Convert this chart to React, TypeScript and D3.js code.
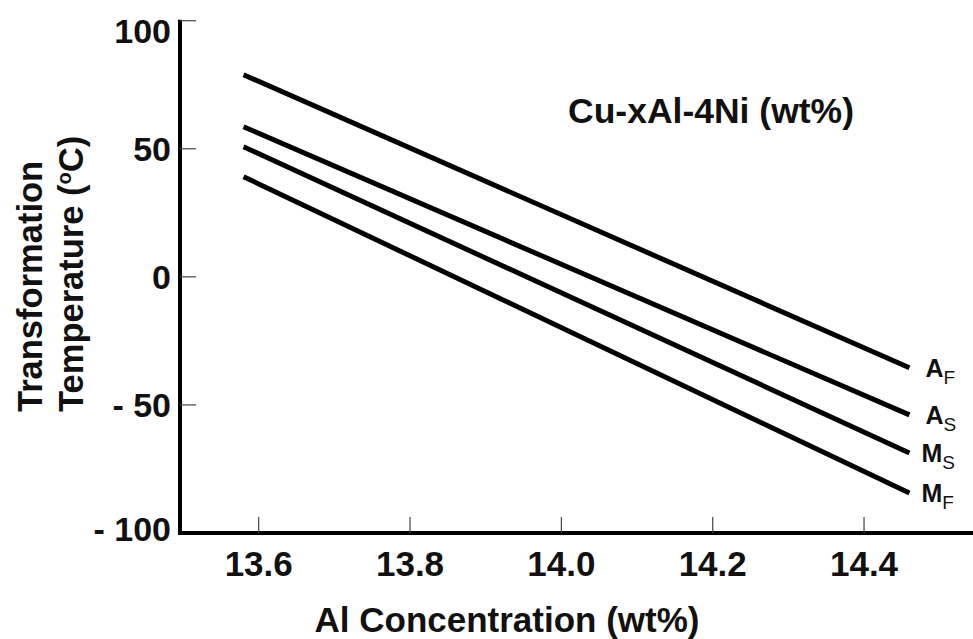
import { useEffect, useRef } from "react";
import * as d3 from "d3";

// ---- data ----
const alConc = [13.58, 14.46];
const seriesNames = ["A", "A", "M", "M"];
const seriesSubs = ["F", "S", "S", "F"];
const afTemps = [78.9, -35.5];
const asTemps = [58.6, -53.9];
const msTemps = [50.8, -68.75];
const mfTemps = [39.1, -84.4];

const xTicks = [13.6, 13.8, 14.0, 14.2, 14.4];
const xTickLabels = ["13.6", "13.8", "14.0", "14.2", "14.4"];
const yTicks = [100, 50, 0, -50, -100];
const yTickLabels = ["100", "50", "0", "- 50", "- 100"];

const FONT = "'Liberation Sans', Arial, Helvetica, sans-serif";

export default function App() {
  const svgRef = useRef<SVGSVGElement>(null);

  useEffect(() => {
    const W = 973, H = 639;
    const svg = d3.select(svgRef.current);
    svg.selectAll("*").remove();
    svg.attr("width", W).attr("height", H);

    const x = d3.scaleLinear().domain([13.496, 14.544]).range([180, 973]);
    const y = d3.scaleLinear().domain([-100, 100]).range([533, 20.7]);

    const allSeries = [afTemps, asTemps, msTemps, mfTemps];

    // lines
    const line = d3.line<[number, number]>()
      .x(d => x(d[0]))
      .y(d => y(d[1]));
    allSeries.forEach((temps, i) => {
      const pts = alConc.map((c, j) => [c, temps[j]] as [number, number]);
      svg.append("path")
        .datum(pts)
        .attr("fill", "none")
        .attr("stroke", "#000")
        .attr("stroke-width", 5)
        .attr("d", line);

      // end label with subscript
      const last = pts[pts.length - 1];
      const t = svg.append("text")
        .attr("x", x(last[0]) + (seriesNames[i] === "M" ? 12 : 16))
        .attr("y", y(last[1]) + 9)
        .attr("font-family", FONT)
        .attr("font-weight", "bold")
        .attr("font-size", 25)
        .attr("fill", "#111");
      t.append("tspan").text(seriesNames[i]);
      t.append("tspan").attr("font-size", 19).attr("font-weight", "normal").attr("dy", 7).text(seriesSubs[i]);
    });

    // y axis
    const yAxis = svg.append("g");
    yAxis.append("line")
      .attr("x1", 180).attr("x2", 180)
      .attr("y1", y(100) - 1).attr("y2", y(-100))
      .attr("stroke", "#000").attr("stroke-width", 4);
    yTicks.forEach((v, i) => {
      yAxis.append("line")
        .attr("x1", 180).attr("x2", 196)
        .attr("y1", y(v)).attr("y2", y(v))
        .attr("stroke", "#444").attr("stroke-width", 1.2);
      const ly = Math.max(31, Math.min(529, y(v)));
      yAxis.append("text")
        .attr("x", 171).attr("y", ly + 12)
        .attr("text-anchor", "end")
        .attr("font-family", FONT).attr("font-weight", "bold")
        .attr("font-size", 34).attr("fill", "#111")
        .text(yTickLabels[i]);
    });

    // x axis
    const xAxis = svg.append("g");
    xAxis.append("line")
      .attr("x1", 178).attr("x2", 973)
      .attr("y1", 533).attr("y2", 533)
      .attr("stroke", "#000").attr("stroke-width", 4);
    xTicks.forEach((v, i) => {
      xAxis.append("line")
        .attr("x1", x(v)).attr("x2", x(v))
        .attr("y1", 533).attr("y2", 517)
        .attr("stroke", "#444").attr("stroke-width", 1.2);
      xAxis.append("text")
        .attr("x", x(v)).attr("y", 576)
        .attr("text-anchor", "middle")
        .attr("font-family", FONT).attr("font-weight", "bold")
        .attr("font-size", 35).attr("fill", "#111")
        .text(xTickLabels[i]);
    });

    // axis titles
    svg.append("text")
      .attr("x", 507).attr("y", 632)
      .attr("text-anchor", "middle")
      .attr("font-family", FONT).attr("font-weight", "bold")
      .attr("font-size", 35).attr("fill", "#111")
      .text("Al Concentration (wt%)");

    const yTitle = svg.append("g").attr("transform", "translate(0,412) rotate(-90)");
    yTitle.append("text")
      .attr("x", 0).attr("y", 42)
      .attr("font-family", FONT).attr("font-weight", "bold")
      .attr("font-size", 34.5).attr("fill", "#111")
      .text("Transformation");
    const t2 = yTitle.append("text")
      .attr("x", 0).attr("y", 83)
      .attr("font-family", FONT).attr("font-weight", "bold")
      .attr("font-size", 34.5).attr("fill", "#111");
    t2.append("tspan").text("Temperature (");
    t2.append("tspan").attr("font-size", 20).attr("dy", -12).text("o");
    t2.append("tspan").attr("dy", 12).text("C)");

    // chart title
    svg.append("text")
      .attr("x", 568).attr("y", 123)
      .attr("font-family", FONT).attr("font-weight", "bold")
      .attr("font-size", 35.5).attr("fill", "#111")
      .text("Cu-xAl-4Ni (wt%)");
  }, []);

  return (
    <div style={{ position: "absolute", left: 0, top: 0, background: "#fff" }}>
      <svg ref={svgRef} style={{ display: "block" }} />
    </div>
  );
}
